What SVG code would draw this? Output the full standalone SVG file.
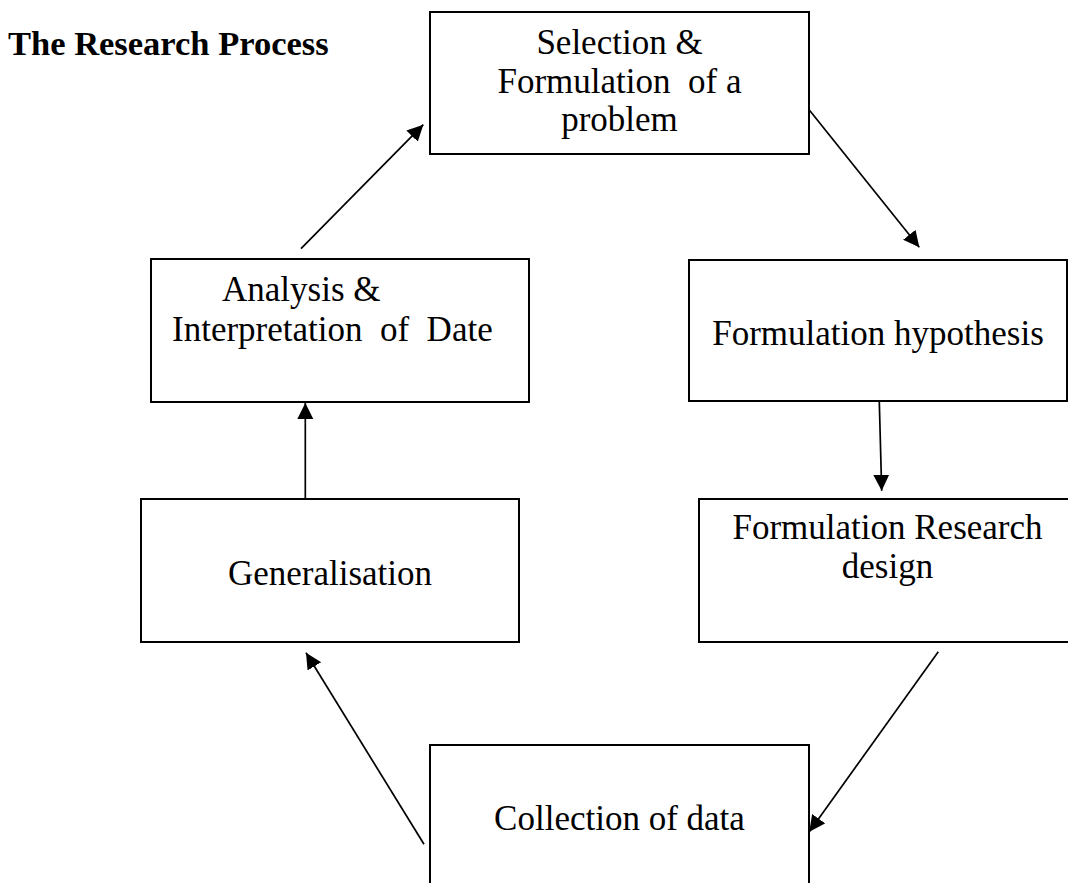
<svg xmlns="http://www.w3.org/2000/svg" width="1068" height="883" viewBox="0 0 1068 883">
<style>
.box{fill:#fff;stroke:#000;stroke-width:2}
.t{font-family:"Liberation Serif","Times New Roman",serif;font-size:35px;fill:#000;white-space:pre}
.c{text-anchor:middle}
.title{font-family:"Liberation Serif","Times New Roman",serif;font-size:34.5px;font-weight:bold;fill:#000}
.con{stroke:#000;stroke-width:1.7;fill:none;marker-end:url(#ah)}
</style>
<defs>
<marker id="ah" markerUnits="userSpaceOnUse" markerWidth="18" markerHeight="18" refX="16" refY="8" orient="auto">
<path d="M0,0 L16,8 L0,16 z" fill="#000"/>
</marker>
</defs>
<rect width="1068" height="883" fill="#fff"/>
<text id="title" class="title" x="8" y="55">The Research Process</text>
<g id="n-selection">
<rect class="box" x="430" y="12" width="379" height="142"/>
<text class="t c" x="619.5" y="54">Selection &amp;</text>
<text class="t c" x="619.5" y="93" xml:space="preserve">Formulation  of a</text>
<text class="t c" x="619.5" y="131">problem</text>
</g>
<g id="n-hypothesis">
<rect class="box" x="689" y="260" width="378" height="141"/>
<text class="t c" x="878" y="345">Formulation hypothesis</text>
</g>
<g id="n-design">
<rect class="box" x="699" y="499" width="380" height="143"/>
<text class="t c" x="887.5" y="538.5">Formulation Research</text>
<text class="t c" x="887.5" y="577.5">design</text>
</g>
<g id="n-collection">
<rect class="box" x="430" y="745" width="379" height="160"/>
<text class="t c" x="619.5" y="830">Collection of data</text>
</g>
<g id="n-generalisation">
<rect class="box" x="141" y="499" width="378" height="143"/>
<text class="t c" x="330" y="585">Generalisation</text>
</g>
<g id="n-analysis">
<rect class="box" x="151" y="259" width="378" height="143"/>
<text class="t" x="222" y="301">Analysis &amp;</text>
<text class="t" x="172" y="341" xml:space="preserve">Interpretation  of  Date</text>
</g>
<g id="connectors">
<line class="con" x1="301" y1="248.7" x2="423.3" y2="124.7"/>
<line class="con" x1="809.3" y1="110" x2="919.3" y2="247.3"/>
<line class="con" x1="879.3" y1="402" x2="881.7" y2="490.7"/>
<line class="con" x1="938.3" y1="651.7" x2="809.3" y2="831.7"/>
<line class="con" x1="424" y1="844.3" x2="306" y2="652.7"/>
<line class="con" x1="305.3" y1="499" x2="305.3" y2="403"/>
</g>
</svg>
